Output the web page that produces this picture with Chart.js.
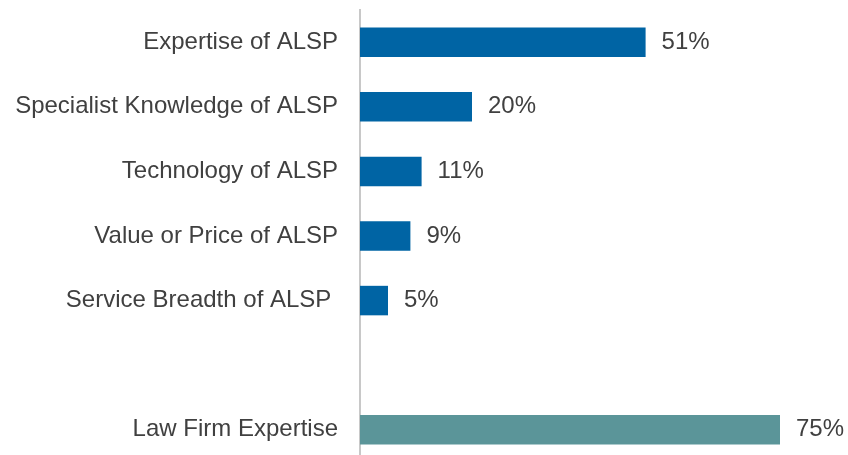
<!DOCTYPE html>
<html>
<head>
<meta charset="utf-8">
<script src="https://cdn.jsdelivr.net/npm/chart.js@4/dist/chart.umd.min.js"></script>
<style>
  html, body { margin: 0; padding: 0; background: #ffffff; overflow: hidden; }
  #wrap { width: 848px; height: 455px; overflow: hidden; }
</style>
</head>
<body>
<div id="wrap"><canvas id="chart" width="848" height="470"></canvas></div>
<script>
// Reasons cited for choosing a provider (percent of respondents)
const categories = [
  'Expertise of ALSP',
  'Specialist Knowledge of ALSP',
  'Technology of ALSP',
  'Value or Price of ALSP',
  'Service Breadth of ALSP ',
  '',
  'Law Firm Expertise'
];
const alspValues = [51, 20, 11, 9, 5, null, null];
const lawFirmValues = [null, null, null, null, null, null, 75];

const TEXT = '#404040';
const FONT = '"Liberation Sans", Arial, sans-serif';

// Writes "NN%" just past the end of each bar
const valueLabels = {
  id: 'valueLabels',
  afterDatasetsDraw(chart) {
    const ctx = chart.ctx;
    ctx.save();
    ctx.font = '24px ' + FONT;
    ctx.fillStyle = TEXT;
    ctx.textAlign = 'left';
    ctx.textBaseline = 'middle';
    chart.data.datasets.forEach((ds, di) => {
      const meta = chart.getDatasetMeta(di);
      meta.data.forEach((bar, i) => {
        const v = ds.data[i];
        if (v === null || v === undefined) return;
        ctx.fillText(v + '%', bar.x + 16, bar.y);
      });
    });
    ctx.restore();
  }
};

new Chart(document.getElementById('chart'), {
  type: 'bar',
  data: {
    labels: categories,
    datasets: [
      {
        label: 'ALSP',
        data: alspValues,
        backgroundColor: '#0064A4',
        barPercentage: 0.457,
        categoryPercentage: 1
      },
      {
        label: 'Law Firm',
        data: lawFirmValues,
        backgroundColor: '#5B9599',
        barPercentage: 0.457,
        categoryPercentage: 1
      }
    ]
  },
  options: {
    indexAxis: 'y',
    responsive: false,
    animation: false,
    grouped: false,
    layout: { padding: { top: 10, bottom: 8, left: 0, right: 40 } },
    plugins: {
      legend: { display: false },
      tooltip: { enabled: false }
    },
    scales: {
      x: {
        display: false,
        min: 0,
        max: 80
      },
      y: {
        afterFit(scale) {
          scale.width = 360;
          // category rows are centred in their bands, so no extra room is needed above/below
          scale.paddingTop = 0;
          scale.paddingBottom = 0;
        },
        grid: { display: false, drawTicks: false },
        border: { display: true, color: '#C8C8C8', width: 2 },
        ticks: {
          padding: 22,
          color: TEXT,
          font: { family: FONT, size: 24 }
        }
      }
    }
  },
  plugins: [valueLabels]
});
</script>
</body>
</html>
